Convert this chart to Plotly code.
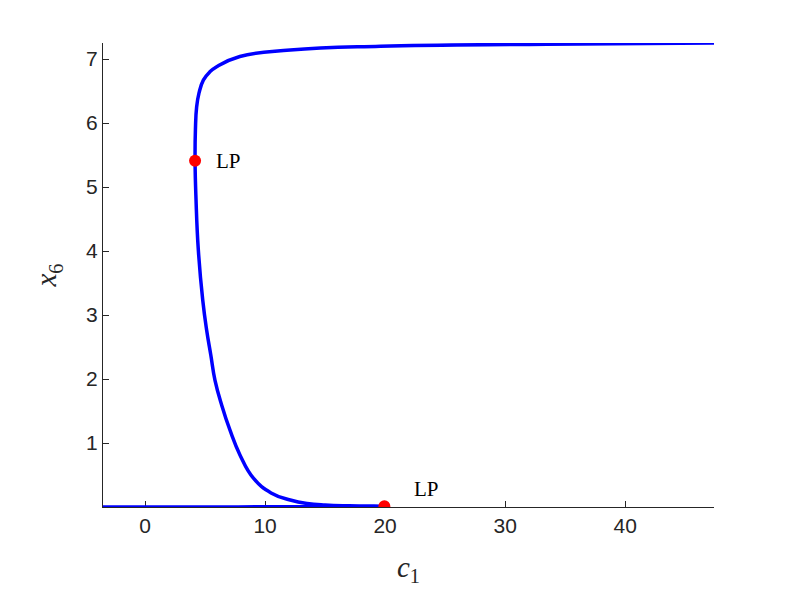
import plotly.graph_objects as go

# Continuation branch (c1, x6)
c1_vals = [-3.5, 5.0, 10.0, 15.0, 19.94,
           17.0, 15.0, 13.5, 12.1, 10.5, 9.03, 7.92, 7.08, 6.39, 5.83, 5.48, 5.13, 4.81, 4.44, 4.25, 4.17,
           4.2, 4.3, 4.5, 4.86, 5.4, 5.97, 7.9, 12.1, 19.6, 33.5, 47.4]
x6_vals = [0.0, 0.001, 0.003, 0.006, 0.012,
           0.018, 0.03, 0.055, 0.11, 0.22, 0.45, 0.81, 1.20, 1.59, 1.98, 2.375, 2.77, 3.23, 4.02, 4.8, 5.41,
           5.9, 6.25, 6.47, 6.67, 6.8, 6.88, 7.04, 7.14, 7.20, 7.23, 7.25]

# Limit points
lp_c1 = [4.17, 19.94]
lp_x6 = [5.41, 0.012]
lp_labels = ["LP", "LP"]

x_ticks = [0, 10, 20, 30, 40]
y_ticks = [1, 2, 3, 4, 5, 6, 7]

fig = go.Figure()
fig.add_trace(go.Scatter(x=c1_vals, y=x6_vals, mode="lines",
                         line=dict(color="#0000ff", width=3.5, shape="spline", smoothing=1.3),
                         hoverinfo="skip", showlegend=False))
fig.add_trace(go.Scatter(x=lp_c1, y=lp_x6, mode="markers",
                         marker=dict(color="#ff0000", size=12),
                         showlegend=False))

shifts = [(19, 0), (28, 17)]
for (cx, cy, lab), (dx, dy) in zip(zip(lp_c1, lp_x6, lp_labels), shifts):
    fig.add_annotation(x=cx, y=cy, text=lab, showarrow=False, xanchor="left", yanchor="middle",
                       xshift=dx, yshift=dy,
                       font=dict(family="Liberation Serif, DejaVu Serif, serif", size=21, color="#000000"))

axis_font = dict(family="Liberation Sans, Arial, sans-serif", size=21, color="#262626")
title_font = dict(family="Liberation Serif, DejaVu Serif, serif", size=29, color="#262626")
fig.update_layout(
    width=789, height=592,
    margin=dict(l=95, r=83, t=35, b=93),
    paper_bgcolor="white", plot_bgcolor="white",
    xaxis=dict(range=[-3.5, 47.4], tickvals=x_ticks, ticks="inside", ticklen=6,
               tickcolor="#262626", showline=True, linecolor="#262626", linewidth=1,
               showgrid=False, zeroline=False, tickfont=axis_font, layer="below traces",
               title=dict(text="<i>c</i><sub>1</sub>", standoff=20, font=title_font)),
    yaxis=dict(range=[0, 7.25], tickvals=y_ticks, ticks="inside", ticklen=6,
               tickcolor="#262626", showline=True, linecolor="#262626", linewidth=1,
               showgrid=False, zeroline=False, tickfont=axis_font, layer="below traces",
               title=dict(text="<i>x</i><sub>6</sub>", standoff=20, font=title_font)),
)

fig.write_html("out.html")
